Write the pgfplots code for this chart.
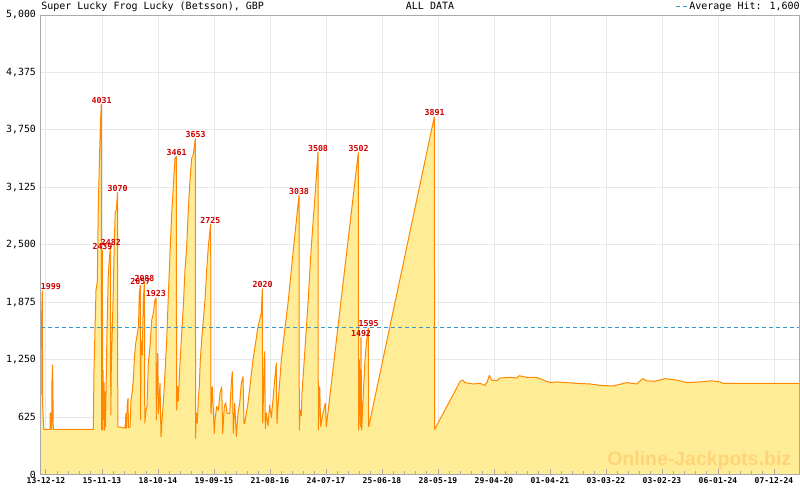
\documentclass[border=0pt]{standalone}
\usepackage{fontspec}
\setmainfont{DejaVu Sans Mono}
\newfontfamily\wmfont{Liberation Sans}
\usepackage{pgfplots}
\usepackage{pgfplotstable}
\pgfplotsset{compat=1.18}

\definecolor{fillc}{RGB}{255,236,150}
\definecolor{linec}{RGB}{255,136,0}
\definecolor{labc}{RGB}{204,0,0}
\definecolor{avgc}{RGB}{51,153,204}
\definecolor{gridc}{RGB}{232,232,232}
\definecolor{axisc}{RGB}{170,170,170}
\definecolor{wmc}{RGB}{255,212,120}

% x is the pixel column of the original chart, y the jackpot in GBP
\pgfplotstableread{
x y
41 865
41.3 1605
42.3 1999
42.7 756
43.7 492
50 492
50.2 669
51 669
51.3 492
51.7 492
52 1028
52.5 1191
52.8 1010
53.3 492
93.3 492
94 1137
95 1571
96 2006
97.3 2100
98.3 2914
99.3 3349
100.3 3784
101.3 4031
101.6 484
101.9 1300
102.4 2439
102.7 484
103 1137
103.5 600
104 1000
104.5 484
105 900
105.5 520
106 870
107 1571
108.3 2189
109.3 2334
110.5 2482
110.8 647
111.3 1166
112.3 1571
113.3 2006
114.3 2551
115.3 2859
116.3 2870
117.5 3070
117.8 520
125 505
126 666
126.5 505
127.3 775
128 829
128.5 510
130 520
131 811
132.3 900
133.3 1028
134.3 1246
135.7 1427
138.5 1608
139.3 1971
140.3 2057
140.6 593
141 1463
142.3 1300
143.3 1899
144.4 2088
144.8 560
146 700
147 738
148.3 1210
150 1391
151.7 1681
153.3 1750
155 1899
156 1923
156.3 593
157.7 1318
158.5 666
160 992
161 411
162 593
163.3 776
165 1104
166.7 1463
168.3 1935
170 2407
171.7 2842
173.3 3131
175 3440
176.3 3461
176.6 702
177.7 955
178.3 800
180 1210
181.7 1536
183.3 1826
185 2225
186.7 2479
188.3 2878
190 3204
191.7 3440
193.3 3480
195.3 3653
195.6 394
196.3 666
197.3 560
198.3 811
199.3 955
200.3 1246
201.7 1463
203.3 1681
205 1899
206.7 2225
208.3 2479
210 2660
210.7 2725
211 666
212.3 955
214.3 448
215 593
216.7 740
218.3 700
220 883
221.7 955
222.7 448
224.3 740
225.7 780
227 666
229.7 666
231.3 992
232.3 1118
233.3 448
234.7 775
236.3 411
238 666
239.7 775
241.3 992
243 1064
244 557
244.7 557
248 778
253 1246
258 1608
261.3 1754
262.3 2020
262.7 560
264.7 1336
265.3 500
266.3 669
268 530
269.7 756
271.3 620
272.3 730
274.7 1028
276.3 1213
277 557
278 756
281.3 1246
284.7 1572
288 1862
291.3 2225
294.7 2588
299 3038
299.3 484
300 700
301.3 640
302 886
304.7 1318
308 1862
311.3 2479
314.7 2987
318 3508
318.3 484
319.7 955
320.7 520
323 669
325.3 775
326.3 520
358.3 3502
358.6 484
359.3 1246
360.3 520
361 1492
361.7 484
363.3 885
365 1246
366.7 1463
368.3 1595
368.7 520
434.3 3891
434.7 492
460 1010
462.7 1028
465 1000
473.3 985
480 992
485 970
487.3 1010
489.3 1079
491.7 1028
496.7 1020
500 1050
510 1057
516.7 1050
519.3 1075
526.7 1057
536.7 1057
543.3 1028
550 1000
556.7 1007
566.7 1000
576.7 992
590 985
600 970
613.3 963
626.7 1000
636.7 985
642.7 1043
646.7 1020
655 1014
665 1043
676.7 1028
686.7 1000
700 1007
711.7 1020
720 1007
723.3 992
799 992
}\jackpot

\pgfplotstableread{
x y lab
50.8 1999 1999
101.7 4031 4031
102.5 2439 2439
110.8 2482 2482
117.7 3070 3070
140.3 2057 2057
144.5 2088 2088
155.8 1923 1923
176.7 3461 3461
195.7 3653 3653
210.3 2725 2725
262.7 2020 2020
299 3038 3038
318 3508 3508
358.7 3502 3502
361 1492 1492
368.7 1595 1595
434.7 3891 3891
}\peaks

\pgfplotsset{
  /pgfplots/layers/chartlayers/.define layer set={
    axis background,axis grid,main,axis ticks,axis lines,
    axis tick labels,axis descriptions,axis foreground
  }{/pgfplots/layers/standard},
}

\begin{document}
\begin{tikzpicture}[x=1pt,y=1pt]
\begin{axis}[
  set layers=chartlayers,
  at={(0,0)}, anchor=south west,
  scale only axis, width=568.5pt, height=344.625pt,
  xmin=41, xmax=799, ymin=0, ymax=5000,
  axis line style={draw=axisc, line width=0.75pt},
  xtick={46,102,158,214,270,326,382,438,494,550,606,662,718,774},
  xticklabels={13-12-12,15-11-13,18-10-14,19-09-15,21-08-16,24-07-17,25-06-18,28-05-19,29-04-20,01-04-21,03-03-22,03-02-23,06-01-24,07-12-24},
  minor x tick num=4,
  xtick pos=lower,
  tick align=inside,
  major tick length=4.5pt, minor tick length=2.6pt,
  every tick/.style={draw=axisc, line width=0.75pt},
  ytick={0,625,1250,1875,2500,3125,3750,4375,5000},
  yticklabels={0,625,{1,250},{1,875},{2,500},{3,125},{3,750},{4,375},{5,000}},
  ytick style={draw=none},
  xmajorgrids, ymajorgrids,
  major grid style={draw=gridc, line width=0.75pt},
  xticklabel style={font=\bfseries\fontsize{6}{7}\selectfont, inner sep=0pt, anchor=north, yshift=-1.8pt},
  yticklabel style={font=\fontsize{7.4}{8}\selectfont, inner sep=0pt, anchor=east, xshift=-3.6pt},
]
\addplot[draw=none, fill=fillc] table[x=x, y=y] {\jackpot} \closedcycle;
\addplot[draw=linec, line width=0.75pt, line join=round, mark=none] table[x=x, y=y] {\jackpot};
\addplot[draw=avgc, line width=0.75pt, dash pattern=on 3pt off 2.25pt] coordinates {(41,1600) (799,1600)};
\addplot[draw=none, mark=none, nodes near coords, point meta=explicit symbolic,
  nodes near coords style={anchor=south, inner sep=0.4pt, text=labc,
    font=\bfseries\fontsize{6.2}{7}\selectfont}]
  table[x=x, y=y, meta=lab] {\peaks};
\end{axis}
\node[anchor=base west, inner sep=0pt, font=\fontsize{7.5}{9}\selectfont] at (0,348.4) {Super Lucky Frog Lucky (Betsson), GBP};
\node[anchor=base west, inner sep=0pt, font=\fontsize{7.5}{9}\selectfont] at (273.5,348.4) {ALL DATA};
\draw[avgc, line width=0.75pt, dash pattern=on 3pt off 2.25pt] (476.25,350.9) -- (484.9,350.9);
\node[anchor=base east, inner sep=0pt, font=\fontsize{7.5}{9}\selectfont] at (569.25,348.4) {Average Hit: 1,600};
\node[anchor=base, inner sep=0pt, text=wmc, font=\wmfont\bfseries\fontsize{14.6}{16}\selectfont] at (493.7,7.1) {Online-Jackpots.biz};
\pgfresetboundingbox
\useasboundingbox (-30.75,-11.625) rectangle (569.25,355.875);
\end{tikzpicture}
\end{document}
